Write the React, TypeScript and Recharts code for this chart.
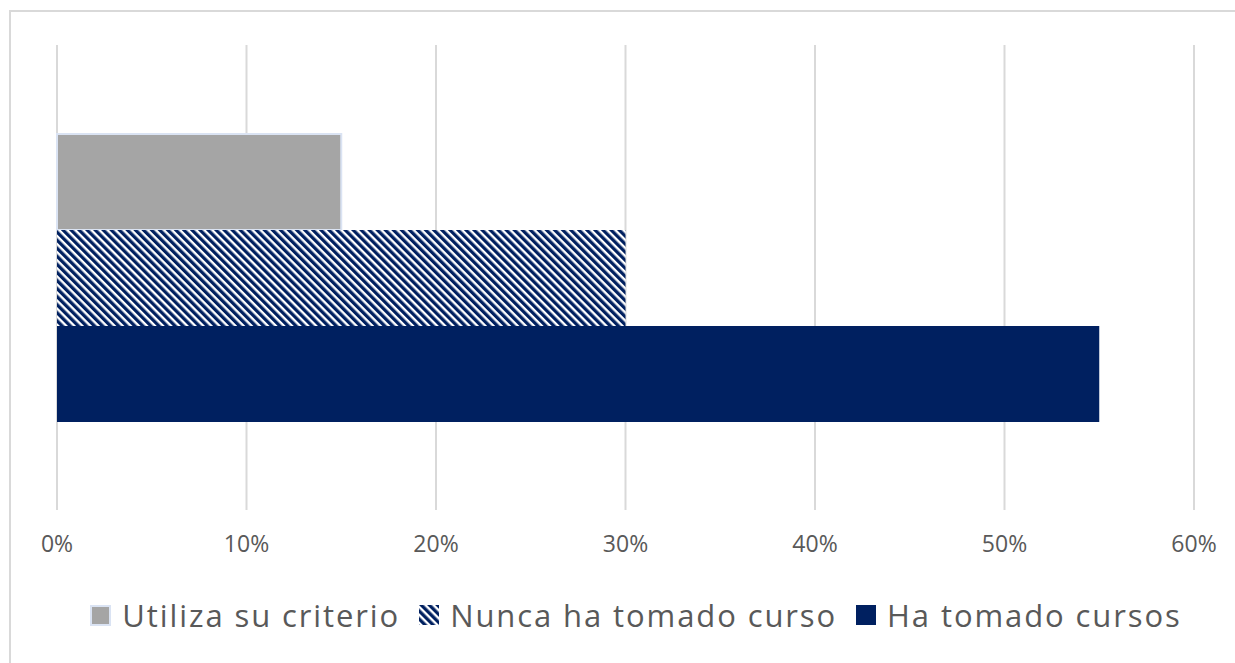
import { BarChart, Bar, XAxis, YAxis, CartesianGrid, Legend } from "recharts";

const categories = ["Capacitación"];
const utilizaSuCriterio = [0.15];
const nuncaHaTomadoCurso = [0.3];
const haTomadoCursos = [0.55];
const xTicks = [0, 0.1, 0.2, 0.3, 0.4, 0.5, 0.6];

const seriesNames = ["Utiliza su criterio", "Nunca ha tomado curso", "Ha tomado cursos"];

const NAVY = "#002060";
const GRAY = "#a5a5a5";
const TEXT = "#595959";
const GRID = "#d9d9d9";
const FONT = "'Open Sans', 'Noto Sans', sans-serif";

// the original chart runs past the right edge of the picture
const CHART_W = 1272;
const CHART_H = 663;

const chartData = categories.map((c, i) => ({
  name: c,
  [seriesNames[0]]: utilizaSuCriterio[i],
  [seriesNames[1]]: nuncaHaTomadoCurso[i],
  [seriesNames[2]]: haTomadoCursos[i],
}));

const pct = (v: number) => `${Math.round(v * 100)}%`;

function LegendIcon({ index }: { index: number }) {
  if (index === 0) {
    return (
      <span
        style={{
          display: "inline-block",
          width: 21,
          height: 21,
          background: GRAY,
          border: "2px solid #dae3f3",
          boxSizing: "border-box",
        }}
      />
    );
  }
  if (index === 1) {
    return (
      <svg width={20} height={20} style={{ display: "block" }}>
        <rect width={20} height={20} fill="url(#hatchNavy)" />
      </svg>
    );
  }
  return <span style={{ display: "inline-block", width: 20, height: 20, background: NAVY }} />;
}

function ChartLegend() {
  return (
    <div
      style={{
        height: 50,
        display: "flex",
        justifyContent: "center",
        alignItems: "center",
        gap: 19,
        fontFamily: FONT,
        fontSize: 31,
        letterSpacing: 1.9,
        color: TEXT,
      }}
    >
      {seriesNames.map((n, i) => (
        <div key={n} style={{ display: "flex", alignItems: "center", gap: 11 }}>
          <LegendIcon index={i} />
          <span>{n}</span>
        </div>
      ))}
    </div>
  );
}

export default function App() {
  return (
    <div
      style={{
        position: "fixed",
        left: 0,
        top: 0,
        width: 1235,
        height: 663,
        background: "#fff",
        overflow: "hidden",
      }}
    >
      {/* chart frame: only the top and left edges are in view */}
      <div style={{ position: "absolute", left: 9, top: 10, width: 1300, height: 2, background: GRID }} />
      <div style={{ position: "absolute", left: 9, top: 10, width: 2, height: 653, background: GRID }} />
      <div style={{ position: "absolute", left: 0, top: 0 }}>
        <BarChart
          width={CHART_W}
          height={CHART_H}
          data={chartData}
          layout="vertical"
          barGap={0}
          margin={{ top: 45, right: CHART_W - 1194, left: 57, bottom: 23 }}
        >
          <defs>
            <pattern
              id="hatchNavy"
              patternUnits="userSpaceOnUse"
              width={5.7}
              height={5.7}
              patternTransform="rotate(-45)"
            >
              <rect width={5.7} height={5.7} fill="#ffffff" />
              <rect width={3.3} height={5.7} fill={NAVY} />
            </pattern>
          </defs>
          <CartesianGrid horizontal={false} stroke={GRID} strokeWidth={2} />
          <XAxis
            type="number"
            domain={[0, 0.6]}
            ticks={xTicks}
            tickFormatter={pct}
            axisLine={false}
            tickLine={false}
            tickSize={0}
            tickMargin={26}
            height={80}
            tick={{ fill: TEXT, fontSize: 23, fontFamily: FONT }}
          />
          <YAxis type="category" dataKey="name" hide />
          <Legend
            verticalAlign="bottom"
            wrapperStyle={{ left: 0, width: CHART_W }}
            content={() => <ChartLegend />}
          />
          <Bar
            dataKey={seriesNames[0]}
            fill={GRAY}
            stroke="#dae3f3"
            strokeWidth={2}
            barSize={96}
            isAnimationActive={false}
          />
          <Bar
            dataKey={seriesNames[1]}
            fill="url(#hatchNavy)"
            barSize={96}
            isAnimationActive={false}
          />
          <Bar dataKey={seriesNames[2]} fill={NAVY} barSize={96} isAnimationActive={false} />
        </BarChart>
      </div>
    </div>
  );
}
